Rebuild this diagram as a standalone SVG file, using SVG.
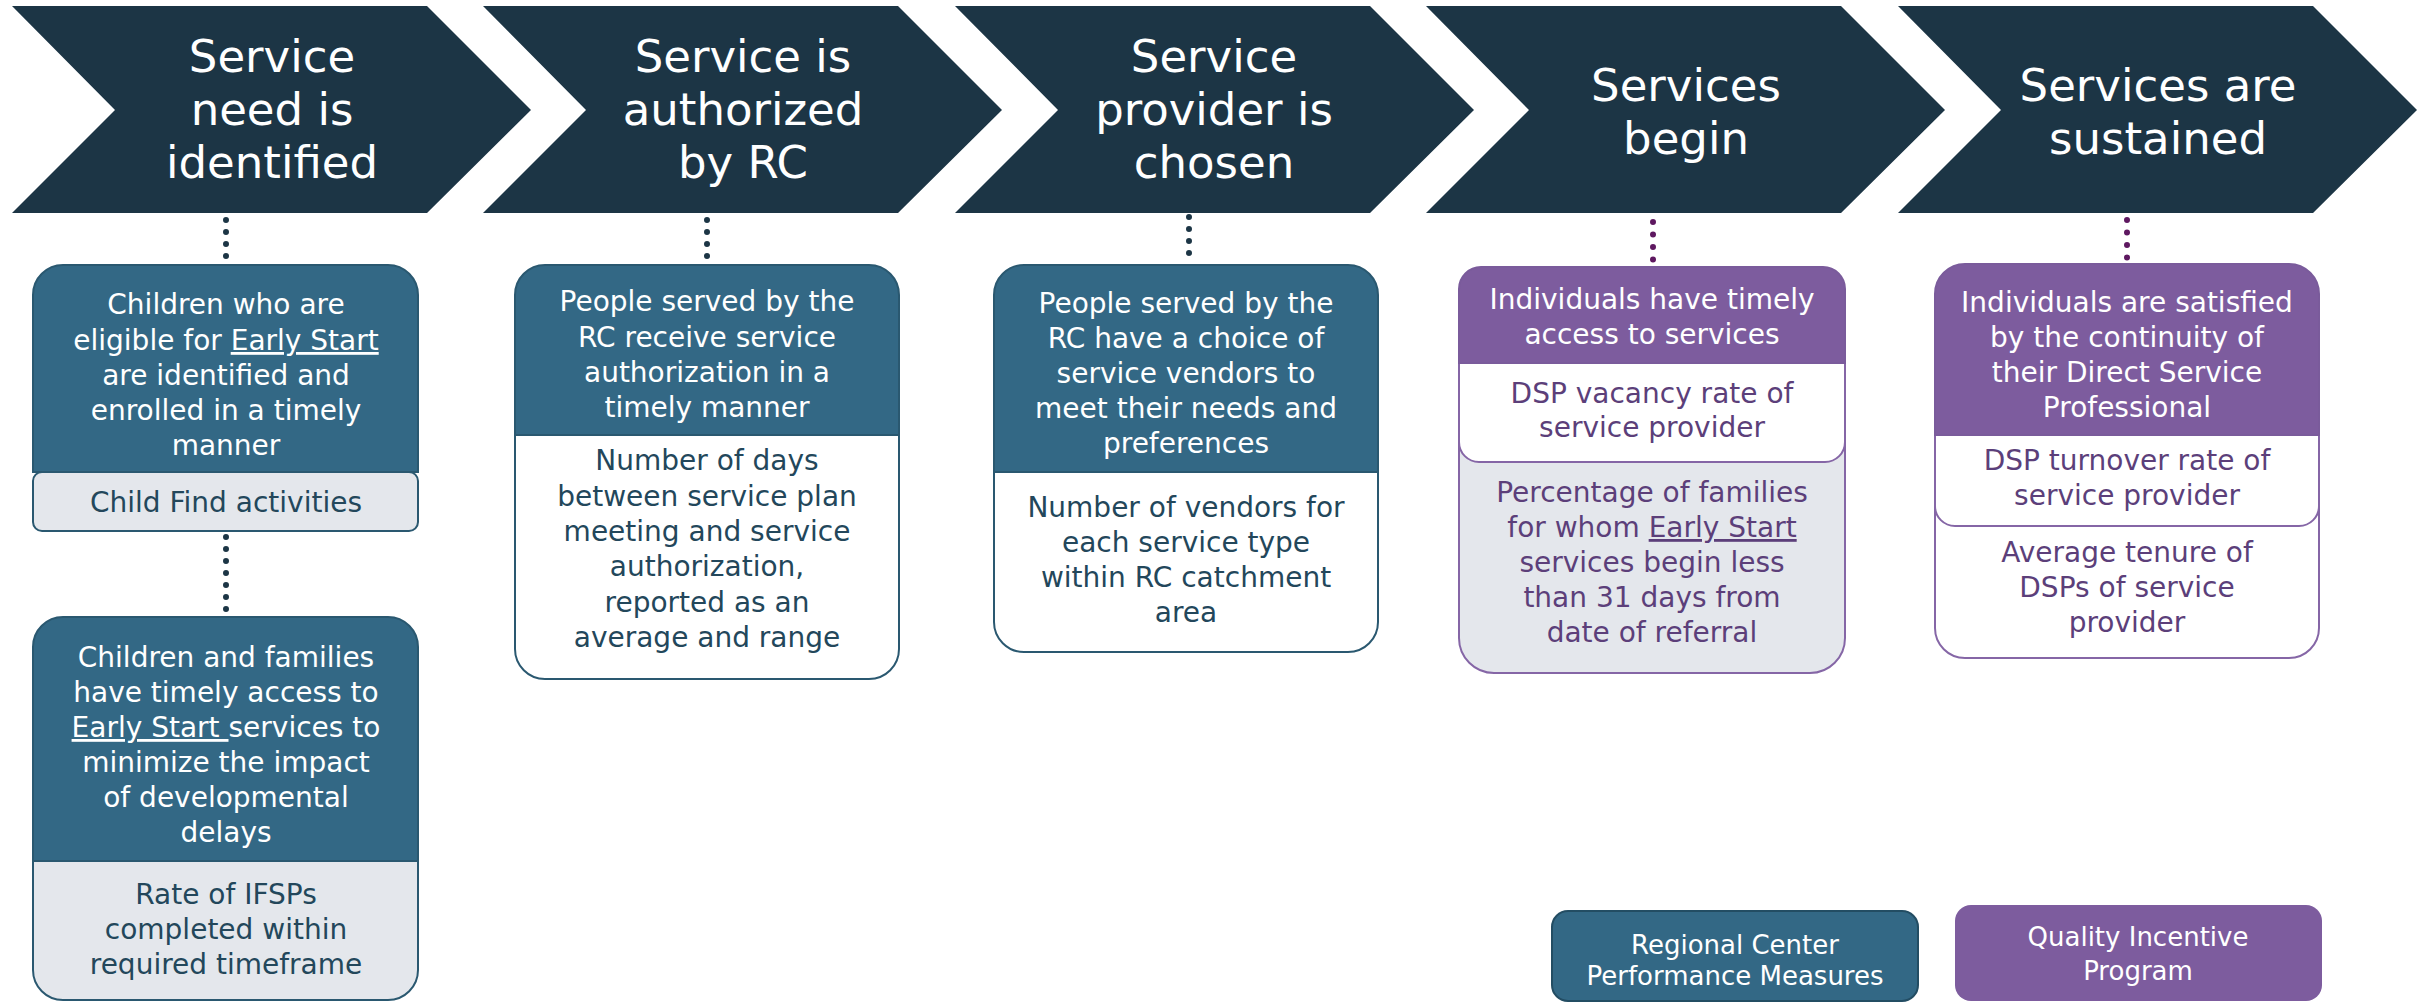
<svg xmlns="http://www.w3.org/2000/svg" width="2428" height="1002" viewBox="0 0 2428 1002">
  <defs>
    <style>
      .chev { fill: #1c3545; }
      .chevtxt { font-family: "DejaVu Sans", "Noto Sans", sans-serif; font-size: 45px; fill: #ffffff; text-anchor: middle; }
      .txt { font-family: "DejaVu Sans", "Noto Sans", sans-serif; font-size: 28px; text-anchor: middle; }
      .wht { fill: #ffffff; }
      .teal { fill: #23475b; }
      .plum { fill: #5c3f7a; }
      .hdrB { fill: #336885; stroke: #2a5870; stroke-width: 2; }
      .hdrP { fill: #7d5c9e; stroke: #7a5b9b; stroke-width: 2; }
      .greyB { fill: #e4e7ec; stroke: #2a5870; stroke-width: 2; }
      .whiteB { fill: #ffffff; stroke: #2a5870; stroke-width: 2; }
      .greyP { fill: #e4e7ec; stroke: #8566a6; stroke-width: 2; }
      .whiteP { fill: #ffffff; stroke: #8566a6; stroke-width: 2; }
      .dotsB { stroke: #1c3545; stroke-width: 6; stroke-linecap: round; stroke-dasharray: 0 12; fill: none; }
      .dotsP { stroke: #5e1860; stroke-width: 6; stroke-linecap: round; stroke-dasharray: 0 12.5; fill: none; }
      .u { text-decoration: underline; }
    </style>
  </defs>
  <rect width="2428" height="1002" fill="#ffffff"/>

  <!-- process chevrons -->
  <g id="stage-need">
    <polygon class="chev" points="12,6 427,6 531,110 427,213 12,213 115,110"/>
    <text class="chevtxt" x="272" y="72">Service</text>
    <text class="chevtxt" x="272" y="125">need is</text>
    <text class="chevtxt" x="272" y="178">identified</text>
  </g>
  <g id="stage-authorized">
    <polygon class="chev" points="483,6 898,6 1002,110 898,213 483,213 586,110"/>
    <text class="chevtxt" x="743" y="72">Service is</text>
    <text class="chevtxt" x="743" y="125">authorized</text>
    <text class="chevtxt" x="743" y="178">by RC</text>
  </g>
  <g id="stage-provider">
    <polygon class="chev" points="955,6 1370,6 1474,110 1370,213 955,213 1058,110"/>
    <text class="chevtxt" x="1214" y="72">Service</text>
    <text class="chevtxt" x="1214" y="125">provider is</text>
    <text class="chevtxt" x="1214" y="178">chosen</text>
  </g>
  <g id="stage-begin">
    <polygon class="chev" points="1426,6 1841,6 1945,110 1841,213 1426,213 1529,110"/>
    <text class="chevtxt" x="1686" y="101">Services</text>
    <text class="chevtxt" x="1686" y="154">begin</text>
  </g>
  <g id="stage-sustained">
    <polygon class="chev" points="1898,6 2313,6 2417,110 2313,213 1898,213 2001,110"/>
    <text class="chevtxt" x="2158" y="101">Services are</text>
    <text class="chevtxt" x="2158" y="154">sustained</text>
  </g>

  <!-- dotted connectors -->
  <g id="connectors">
    <line class="dotsB" x1="226" y1="220" x2="226" y2="258"/>
    <line class="dotsB" x1="226" y1="537" x2="226" y2="613"/>
    <line class="dotsB" x1="707" y1="220" x2="707" y2="258"/>
    <line class="dotsB" x1="1189" y1="217" x2="1189" y2="255"/>
    <line class="dotsP" x1="1653" y1="222" x2="1653" y2="262"/>
    <line class="dotsP" x1="2127" y1="220" x2="2127" y2="258"/>
  </g>

  <!-- measure cards -->
  <g id="card-enrolled">
    <path class="hdrB" d="M33,472 V295 A30,30 0 0 1 63,265 H388 A30,30 0 0 1 418,295 V472 Z"/>
    <rect class="greyB" x="33" y="472" width="385" height="59" rx="9"/>
    <text class="txt wht" x="226" y="314">Children who are</text>
    <text class="txt wht" x="226" y="350">eligible for <tspan class="u">Early Start</tspan></text>
    <text class="txt wht" x="226" y="385">are identified and</text>
    <text class="txt wht" x="226" y="420">enrolled in a timely</text>
    <text class="txt wht" x="226" y="455">manner</text>
    <text class="txt teal" x="226" y="512">Child Find activities</text>
  </g>

  <g id="card-early-access">
    <path class="greyB" d="M33,861 V970 A30,30 0 0 0 63,1000 H388 A30,30 0 0 0 418,970 V861 Z"/>
    <path class="hdrB" d="M33,861 V647 A30,30 0 0 1 63,617 H388 A30,30 0 0 1 418,647 V861 Z"/>
    <text class="txt wht" x="226" y="667">Children and families</text>
    <text class="txt wht" x="226" y="702">have timely access to</text>
    <text class="txt wht" x="226" y="737"><tspan class="u">Early Start </tspan>services to</text>
    <text class="txt wht" x="226" y="772">minimize the impact</text>
    <text class="txt wht" x="226" y="807">of developmental</text>
    <text class="txt wht" x="226" y="842">delays</text>
    <text class="txt teal" x="226" y="904">Rate of IFSPs</text>
    <text class="txt teal" x="226" y="939">completed within</text>
    <text class="txt teal" x="226" y="974">required timeframe</text>
  </g>

  <g id="card-authorization">
    <path class="whiteB" d="M515,435 V649 A30,30 0 0 0 545,679 H869 A30,30 0 0 0 899,649 V435 Z"/>
    <path class="hdrB" d="M515,435 V295 A30,30 0 0 1 545,265 H869 A30,30 0 0 1 899,295 V435 Z"/>
    <text class="txt wht" x="707" y="311">People served by the</text>
    <text class="txt wht" x="707" y="347">RC receive service</text>
    <text class="txt wht" x="707" y="382">authorization in a</text>
    <text class="txt wht" x="707" y="417">timely manner</text>
    <text class="txt teal" x="707" y="470">Number of days</text>
    <text class="txt teal" x="707" y="506">between service plan</text>
    <text class="txt teal" x="707" y="541">meeting and service</text>
    <text class="txt teal" x="707" y="576">authorization,</text>
    <text class="txt teal" x="707" y="612">reported as an</text>
    <text class="txt teal" x="707" y="647">average and range</text>
  </g>

  <g id="card-vendor-choice">
    <path class="whiteB" d="M994,472 V622 A30,30 0 0 0 1024,652 H1348 A30,30 0 0 0 1378,622 V472 Z"/>
    <path class="hdrB" d="M994,472 V295 A30,30 0 0 1 1024,265 H1348 A30,30 0 0 1 1378,295 V472 Z"/>
    <text class="txt wht" x="1186" y="313">People served by the</text>
    <text class="txt wht" x="1186" y="348">RC have a choice of</text>
    <text class="txt wht" x="1186" y="383">service vendors to</text>
    <text class="txt wht" x="1186" y="418">meet their needs and</text>
    <text class="txt wht" x="1186" y="453">preferences</text>
    <text class="txt teal" x="1186" y="517">Number of vendors for</text>
    <text class="txt teal" x="1186" y="552">each service type</text>
    <text class="txt teal" x="1186" y="587">within RC catchment</text>
    <text class="txt teal" x="1186" y="622">area</text>
  </g>

  <g id="card-timely-access">
    <path class="greyP" d="M1459,330 V638 A35,35 0 0 0 1494,673 H1810 A35,35 0 0 0 1845,638 V330 Z"/>
    <path class="whiteP" d="M1459,340 V442 A20,20 0 0 0 1479,462 H1825 A20,20 0 0 0 1845,442 V340 Z"/>
    <path class="hdrP" d="M1459,363 V289 A22,22 0 0 1 1481,267 H1823 A22,22 0 0 1 1845,289 V363 Z"/>
    <text class="txt wht" x="1652" y="309">Individuals have timely</text>
    <text class="txt wht" x="1652" y="344">access to services</text>
    <text class="txt plum" x="1652" y="403">DSP vacancy rate of</text>
    <text class="txt plum" x="1652" y="437">service provider</text>
    <text class="txt plum" x="1652" y="502">Percentage of families</text>
    <text class="txt plum" x="1652" y="537">for whom <tspan class="u">Early Start</tspan></text>
    <text class="txt plum" x="1652" y="572">services begin less</text>
    <text class="txt plum" x="1652" y="607">than 31 days from</text>
    <text class="txt plum" x="1652" y="642">date of referral</text>
  </g>

  <g id="card-continuity">
    <path class="whiteP" d="M1935,420 V628 A30,30 0 0 0 1965,658 H2289 A30,30 0 0 0 2319,628 V420 Z"/>
    <path class="whiteP" d="M1935,420 V506 A20,20 0 0 0 1955,526 H2299 A20,20 0 0 0 2319,506 V420 Z"/>
    <path class="hdrP" d="M1935,435 V294 A30,30 0 0 1 1965,264 H2289 A30,30 0 0 1 2319,294 V435 Z"/>
    <text class="txt wht" x="2127" y="312">Individuals are satisfied</text>
    <text class="txt wht" x="2127" y="347">by the continuity of</text>
    <text class="txt wht" x="2127" y="382">their Direct Service</text>
    <text class="txt wht" x="2127" y="417">Professional</text>
    <text class="txt plum" x="2127" y="470">DSP turnover rate of</text>
    <text class="txt plum" x="2127" y="505">service provider</text>
    <text class="txt plum" x="2127" y="562">Average tenure of</text>
    <text class="txt plum" x="2127" y="597">DSPs of service</text>
    <text class="txt plum" x="2127" y="632">provider</text>
  </g>

  <!-- legend -->
  <g id="legend-rc">
    <rect x="1552" y="911" width="366" height="90" rx="16" fill="#336885" stroke="#234d63" stroke-width="2"/>
    <text class="txt wht" x="1735" y="954" style="font-size:26px">Regional Center</text>
    <text class="txt wht" x="1735" y="985" style="font-size:26px">Performance Measures</text>
  </g>
  <g id="legend-qip">
    <rect x="1955" y="905" width="367" height="96" rx="16" fill="#7d5c9e"/>
    <text class="txt wht" x="2138" y="946" style="font-size:26px">Quality Incentive</text>
    <text class="txt wht" x="2138" y="980" style="font-size:26px">Program</text>
  </g>
</svg>
